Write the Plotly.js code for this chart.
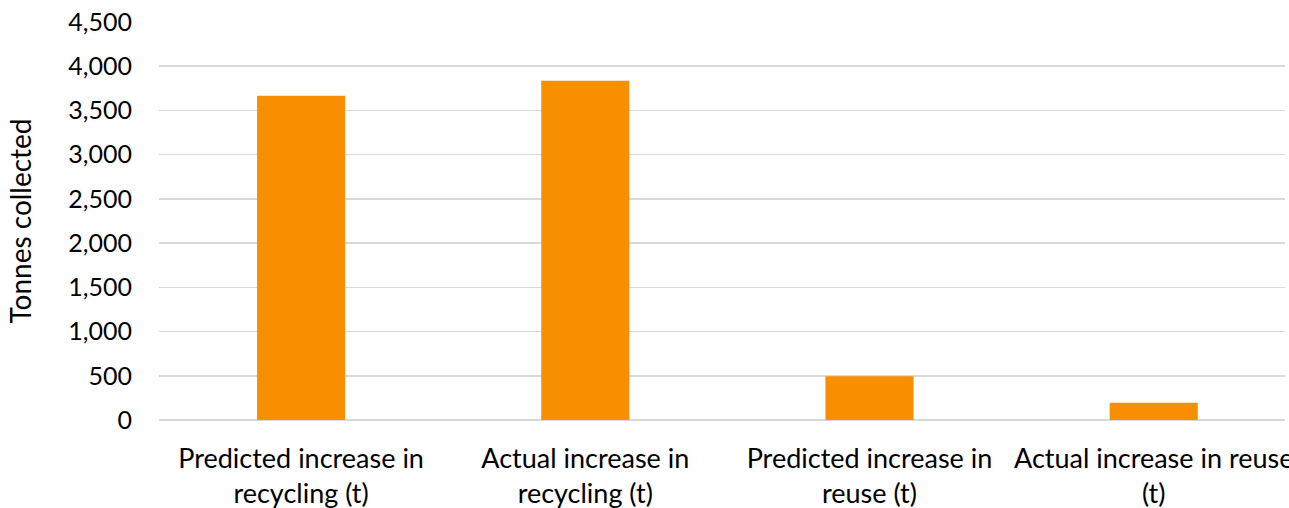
<!DOCTYPE html>
<html>
<head>
<meta charset="utf-8">
<script src="https://cdn.plot.ly/plotly-3.0.1.min.js"></script>
<style>html,body{margin:0;padding:0;background:#fff;}#chart{width:1289px;height:508px;}</style>
</head>
<body>
<div id="chart"></div>
<script>
const categories = [
  "Predicted increase in<br>recycling (t)",
  "Actual increase in<br>recycling (t)",
  "Predicted increase in<br>reuse (t)",
  "Actual increase in reuse<br>(t)"
];
const tonnes = [3665, 3835, 495, 195];
const yTickVals = [0, 500, 1000, 1500, 2000, 2500, 3000, 3500, 4000, 4500];
const yTickText = ["0", "500", "1,000", "1,500", "2,000", "2,500", "3,000", "3,500", "4,000", "4,500"];

const trace = {
  type: "bar",
  x: categories,
  y: tonnes,
  marker: {color: "#F78F00"},
  hoverinfo: "skip"
};

const layout = {
  width: 1289,
  height: 508,
  margin: {l: 159, r: 4, t: 22, b: 88},
  paper_bgcolor: "#ffffff",
  plot_bgcolor: "#ffffff",
  font: {family: "Lato, 'Open Sans', sans-serif", size: 26, color: "#000000"},
  showlegend: false,
  bargap: 0.69,
  xaxis: {
    range: [-0.5, 3.462],
    showgrid: false,
    showline: false,
    zeroline: false,
    ticks: "",
    tickfont: {size: 27},
    ticklabelstandoff: 20,
    fixedrange: true
  },
  yaxis: {
    range: [0, 4500],
    tickvals: yTickVals,
    ticktext: yTickText,
    showgrid: true,
    gridcolor: "#d9d9d9",
    gridwidth: 1.5,
    zeroline: true,
    zerolinecolor: "#d9d9d9",
    zerolinewidth: 1.5,
    showline: false,
    ticks: "",
    ticklen: 0,
    tickfont: {size: 25},
    ticklabelstandoff: 26,
    title: {text: "Tonnes collected", font: {size: 28}, standoff: 28},
    fixedrange: true
  }
};

Plotly.newPlot("chart", [trace], layout, {displayModeBar: false, staticPlot: true});
</script>
</body>
</html>
